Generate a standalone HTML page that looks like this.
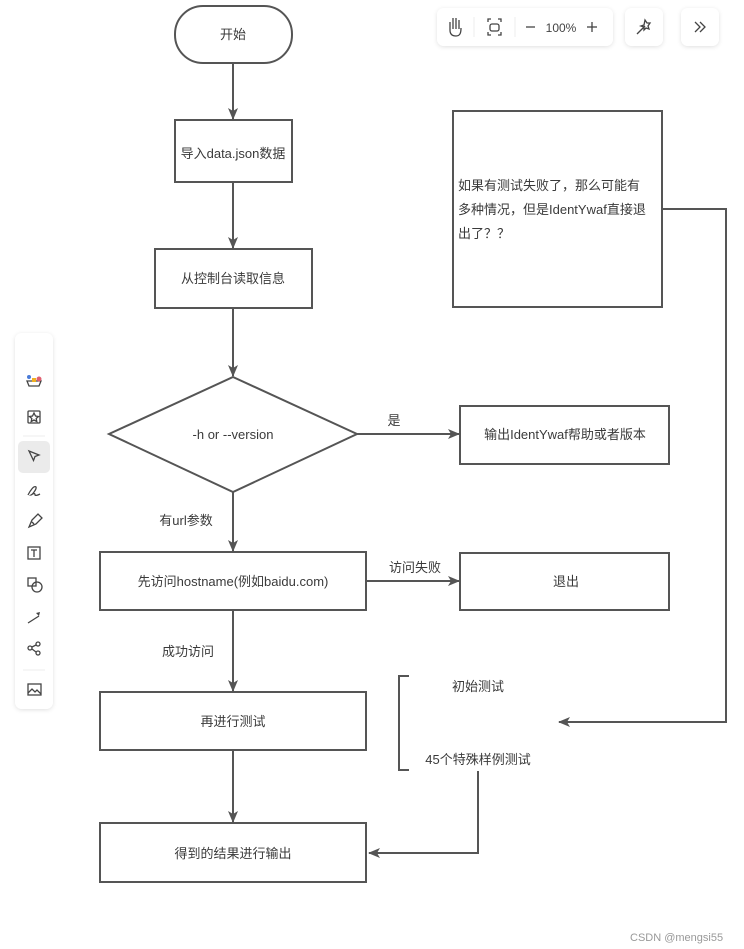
<!DOCTYPE html>
<html><head><meta charset="utf-8"><style>
html,body{margin:0;padding:0;background:#fff;width:744px;height:949px;overflow:hidden}
svg text{font-family:"Liberation Sans","Noto Sans CJK SC",sans-serif;font-size:13px;fill:#3a3a3a}
</style></head><body>
<svg width="744" height="949" viewBox="0 0 744 949" xmlns="http://www.w3.org/2000/svg">
<defs>
<marker id="a" markerWidth="12" markerHeight="10" refX="11" refY="5" orient="auto" markerUnits="userSpaceOnUse">
<path d="M0,0 L12,5 L0,10 L3,5 z" fill="#555"/></marker>
<filter id="sh" x="-20%" y="-20%" width="140%" height="140%"><feDropShadow dx="0" dy="1" stdDeviation="2" flood-color="#000" flood-opacity="0.12"/></filter>
</defs>
<g stroke="#555" stroke-width="2" fill="#fff">
<rect x="175" y="6" width="117" height="57" rx="28"/>
<rect x="175" y="120" width="117" height="62"/>
<rect x="155" y="249" width="157" height="59"/>
<polygon points="233,377 357,434 233,492 109,434"/>
<rect x="460" y="406" width="209" height="58"/>
<rect x="100" y="552" width="266" height="58"/>
<rect x="460" y="553" width="209" height="57"/>
<rect x="100" y="692" width="266" height="58"/>
<rect x="100" y="823" width="266" height="59"/>
<rect x="453" y="111" width="209" height="196"/>
</g>
<g stroke="#555" stroke-width="2" fill="none" marker-end="url(#a)">
<line x1="233" y1="63" x2="233" y2="119"/>
<line x1="233" y1="182" x2="233" y2="248"/>
<line x1="233" y1="308" x2="233" y2="376"/>
<line x1="357" y1="434" x2="459" y2="434"/>
<line x1="233" y1="492" x2="233" y2="551"/>
<line x1="366" y1="581" x2="459" y2="581"/>
<line x1="233" y1="610" x2="233" y2="691"/>
<line x1="233" y1="750" x2="233" y2="822"/>
<polyline points="662,209 726,209 726,722 559,722"/>
<polyline points="478,771 478,853 369,853"/>
</g>
<polyline points="409,676 399,676 399,770 409,770" stroke="#555" stroke-width="2" fill="none"/>
<g text-anchor="middle">
<text x="233" y="39">开始</text>
<text x="233" y="158">导入data.json数据</text>
<text x="233" y="283">从控制台读取信息</text>
<text x="233" y="439">-h or --version</text>
<text x="565" y="439">输出IdentYwaf帮助或者版本</text>
<text x="233" y="586">先访问hostname(例如baidu.com)</text>
<text x="566" y="586">退出</text>
<text x="233" y="726">再进行测试</text>
<text x="233" y="858">得到的结果进行输出</text>
<text x="394" y="425">是</text>
<text x="186" y="525">有url参数</text>
<text x="415" y="572">访问失败</text>
<text x="188" y="656">成功访问</text>
<text x="478" y="691">初始测试</text>
<text x="478" y="764">45个特殊样例测试</text>
</g>
<text x="458" y="190">如果有测试失败了，那么可能有</text>
<text x="458" y="214">多种情况，但是IdentYwaf直接退</text>
<text x="458" y="238">出了？？</text>
<text x="630" y="941" style="font-size:11px;fill:#999">CSDN @mengsi55</text>
<g filter="url(#sh)" fill="#fff">
<rect x="437" y="8" width="176" height="38" rx="7"/>
<rect x="625" y="8" width="38" height="38" rx="7"/>
<rect x="681" y="8" width="38" height="38" rx="7"/>
<rect x="15" y="333" width="38" height="376" rx="7"/>
</g>
<g stroke="#444" stroke-width="1.3" fill="none">
<path d="M450,30 v-8 M453,29 v-11 M456,29 v-11 M459,29 v-9 M450,30 c0,5 3,6 6,6 c4,0 5,-3 5,-8"/>
<rect x="490" y="24" width="9" height="7" rx="2"/>
<path d="M488,22 v-3 h3 M498,19 h3 v3 M501,32 v3 h-3 M491,35 h-3 v-3"/>
<line x1="526" y1="27" x2="535" y2="27"/>
<line x1="587" y1="27" x2="597" y2="27"/><line x1="592" y1="22" x2="592" y2="32"/>
<line x1="637" y1="34" x2="645" y2="26"/><path d="M645,20 l2,3 3,0 -2,3 1,3 -3,-1 -2,2 0,-3 -3,-1 3,-1z"/>
<path d="M695,22 l5,5 -5,5 M700,22 l5,5 -5,5"/>
</g>
<line x1="474" y1="17" x2="474" y2="37" stroke="#eee"/>
<line x1="515" y1="17" x2="515" y2="37" stroke="#eee"/>
<text x="561" y="32" text-anchor="middle" style="font-size:12px;fill:#444">100%</text>
<rect x="18" y="441" width="32" height="32" rx="5" fill="#ebebeb"/>
<line x1="23" y1="436" x2="45" y2="436" stroke="#eee"/>
<line x1="23" y1="670" x2="45" y2="670" stroke="#eee"/>
<g stroke="#444" stroke-width="1.3" fill="none">
<path d="M27,381 h14 l-2,5 h-10z"/><circle cx="29" cy="377" r="2" fill="#4a7bd8" stroke="none"/><circle cx="39" cy="379" r="2.5" fill="#e06070" stroke="none"/><rect x="32" y="378" width="4" height="4" fill="#f0b020" stroke="none"/>
<rect x="28" y="411" width="12" height="12" rx="1"/><path d="M34,413 l1.5,3 3,0.5 -2.3,2 0.6,3 -2.8,-1.5 -2.8,1.5 0.6,-3 -2.3,-2 3,-0.5z"/>
<path d="M29,451 l10,4 -4,1.5 -1.5,4z"/>
<path d="M28,495 c2,-4 6,-10 8,-8 c1,2 -4,8 -5,8 c3,-2 4,-2 4,0 c1,1 3,0 5,-1"/>
<path d="M29,527 l3,-7 6,-6 4,4 -6,6z M32,522 l2,2"/>
<rect x="28" y="547" width="12" height="12"/><path d="M31,550 h6 M34,550 v7"/>
<rect x="28" y="578" width="8" height="8"/><circle cx="37" cy="587" r="5"/>
<line x1="28" y1="623" x2="39" y2="616"/>
<circle cx="30" cy="648" r="2"/><circle cx="38" cy="644" r="2"/><circle cx="38" cy="653" r="2"/><path d="M32,647 l4,-2 M32,649 l4,3"/>
<rect x="28" y="684" width="13" height="11"/><path d="M28,693 l4,-4 3,3 2,-2 4,4"/>
</g>
<path d="M36,613 l4,-1 -1,4z" fill="#444"/>
</svg>
</body></html>
